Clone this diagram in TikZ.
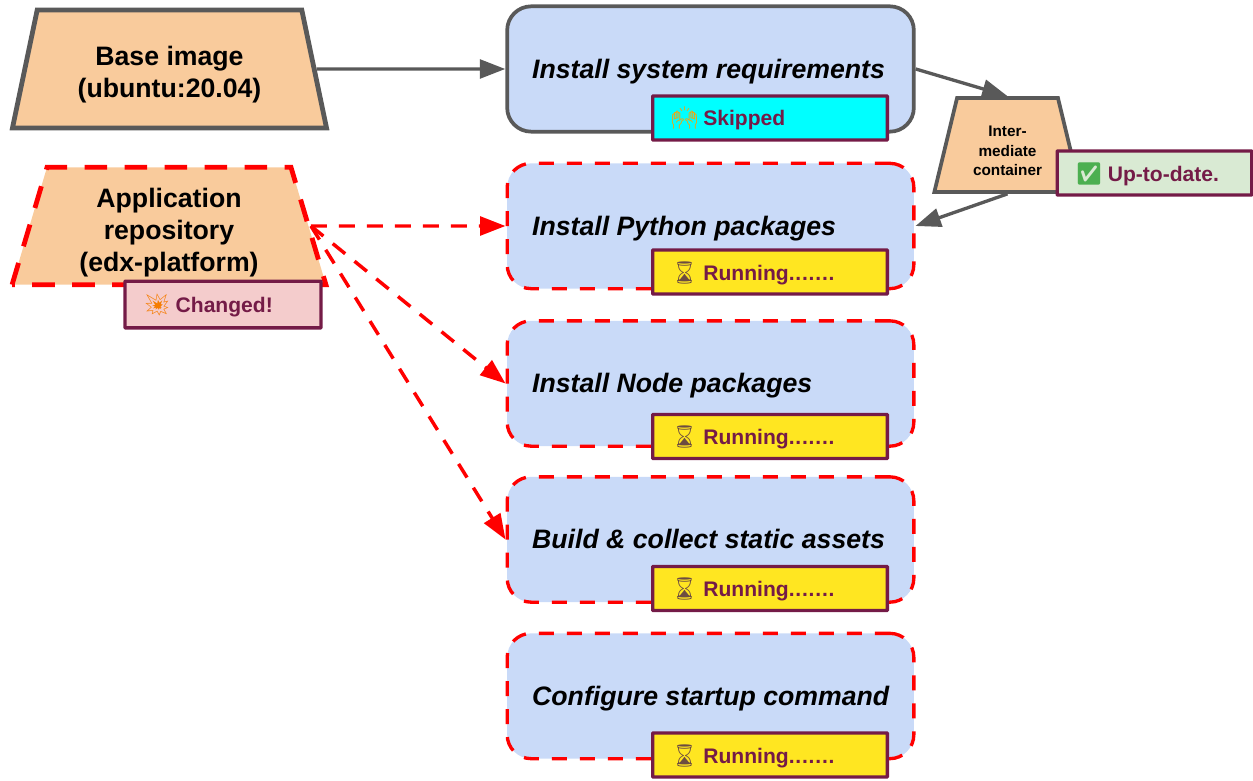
\documentclass[tikz,border=0pt]{standalone}
\usepackage{fontspec}
\setmainfont{Liberation Sans}
\newfontfamily\emojifont{Noto Emoji}
\usetikzlibrary{shapes.geometric,arrows.meta}
\definecolor{peach}{HTML}{F9CB9C}
\definecolor{stepblue}{HTML}{C9DAF8}
\definecolor{edgegray}{HTML}{595959}
\definecolor{plum}{HTML}{741B47}
\definecolor{skipcyan}{HTML}{00FFFF}
\definecolor{runyellow}{HTML}{FFE621}
\definecolor{changedpink}{HTML}{F4CCCC}
\definecolor{okgreen}{HTML}{D9EAD3}
\definecolor{handorange}{HTML}{FFA000}
\definecolor{blastorange}{HTML}{F57C00}
\definecolor{checkgreen}{HTML}{4CAF50}
\definecolor{sandbrown}{HTML}{6D4C41}
\tikzstyle{image}=[trapezium,
                   trapezium stretches=true,
                   trapezium left angle=76,
                   trapezium right angle=76,
                   font=\bfseries\fontsize{20}{24}\selectfont,
                   align=center,
                   inner sep=0pt,
                   fill=peach]
\tikzstyle{stepbox}=[rounded corners=18pt,
                     minimum height=94pt,
                     inner xsep=18.75pt,
                     inner ysep=0pt,
                     text height=18.2pt,
                     text depth=4pt,
                     font=\bfseries\itshape\fontsize{20}{24}\selectfont,
                     fill=stepblue]
\tikzstyle{badge}=[draw=plum,line width=2.5pt,rounded corners=0.5pt,
                   minimum height=33pt,inner sep=0pt,
                   text height=15pt,text depth=3pt,
                   text=plum,font=\bfseries\fontsize{15.8}{19}\selectfont]
\tikzstyle{kept}=[draw=edgegray,line width=2.8pt]
\tikzstyle{broken}=[draw=red,line width=2.5pt,dash pattern=on 11.25pt off 9.75pt]
\tikzstyle{flow}=[edgegray,line width=2.5pt,-{Triangle[length=19pt,width=14pt]}]
\tikzstyle{rerun}=[red,line width=2.6pt,dash pattern=on 12pt off 9pt,-{Triangle[length=19pt,width=14pt]}]
\newcommand{\steplabel}[1]{\makebox[267.5pt][l]{#1}}
\newcommand{\badgelabel}[4]{\makebox[#1][l]{\hspace{13.5pt}\makebox[24.5pt][l]{\emojifont\fontsize{16.5}{18}\selectfont\textcolor{#2}{#3}}#4}}
\newcommand{\toppad}[1]{\rule{0pt}{#1}}
\newcommand{\waiting}{Running.\kern.6pt.\kern.6pt.\kern.6pt.\kern.6pt.\kern.6pt.\kern.6pt.}
\begin{document}
\begin{tikzpicture}[x=0.75pt,y=-0.75pt]
    \useasboundingbox (0,0) rectangle (1253,781);
    % source images
    \node[image,kept,line width=3.6pt,minimum width=236pt,minimum height=88.5pt] (base) at (169.5,69) {\toppad{23.5pt}Base image\\(ubuntu:20.04)};
    \node[image,broken,line width=3.6pt,dash pattern=on 17pt off 13pt,minimum width=236pt,minimum height=88pt] (repo) at (169,226) {\toppad{25pt}Application\\repository\\(edx-platform)};
    \node[image,kept,minimum width=110pt,minimum height=70.5pt,font=\bfseries\fontsize{11.5}{14.8}\selectfont] (inter) at (1007.5,145) {\toppad{17pt}Inter-\\mediate\\container};

    % build steps
    \node[stepbox,kept] (sysreq) at (710.5,69) {\steplabel{Install system requirements}};
    \node[stepbox,broken] (python) at (710.5,226) {\steplabel{Install Python packages}};
    \node[stepbox,broken] (nodepkg) at (710.5,383.5) {\steplabel{Install Node packages}};
    \node[stepbox,broken] (assets) at (710.5,539.5) {\steplabel{Build \& collect static assets}};
    \node[stepbox,broken] (startup) at (710.5,696) {\steplabel{Configure startup command}};

    \path[flow] (base.east) edge (sysreq.west)
   (sysreq.east) edge (inter.north)
   (inter.south) edge (python.east);
    \path[rerun] (repo.east) edge (python.west)
   (repo.east) edge (nodepkg.west)
   (repo.east) edge (assets.west);

    % badges
    \node[badge,fill=skipcyan] (skipped) at (770,118) {\badgelabel{176pt}{handorange}{🙌}{Skipped}};
    \node[badge,fill=runyellow] (run1) at (770,272) {\badgelabel{176pt}{sandbrown}{⌛}{\waiting}};
    \node[badge,fill=runyellow] (run2) at (770,436.5) {\badgelabel{176pt}{sandbrown}{⌛}{\waiting}};
    \node[badge,fill=runyellow] (run3) at (770,588.5) {\badgelabel{176pt}{sandbrown}{⌛}{\waiting}};
    \node[badge,fill=runyellow] (run4) at (770,755) {\badgelabel{176pt}{sandbrown}{⌛}{\waiting}};
    \node[badge,fill=changedpink,minimum height=35pt] (changed) at (223,304.5) {\badgelabel{147pt}{blastorange}{💥}{Changed!}};
    \node[badge,fill=okgreen] (uptodate) at (1154.5,173) {\badgelabel{146pt}{checkgreen}{✅}{Up-to-date.}};
\end{tikzpicture}
\end{document}
